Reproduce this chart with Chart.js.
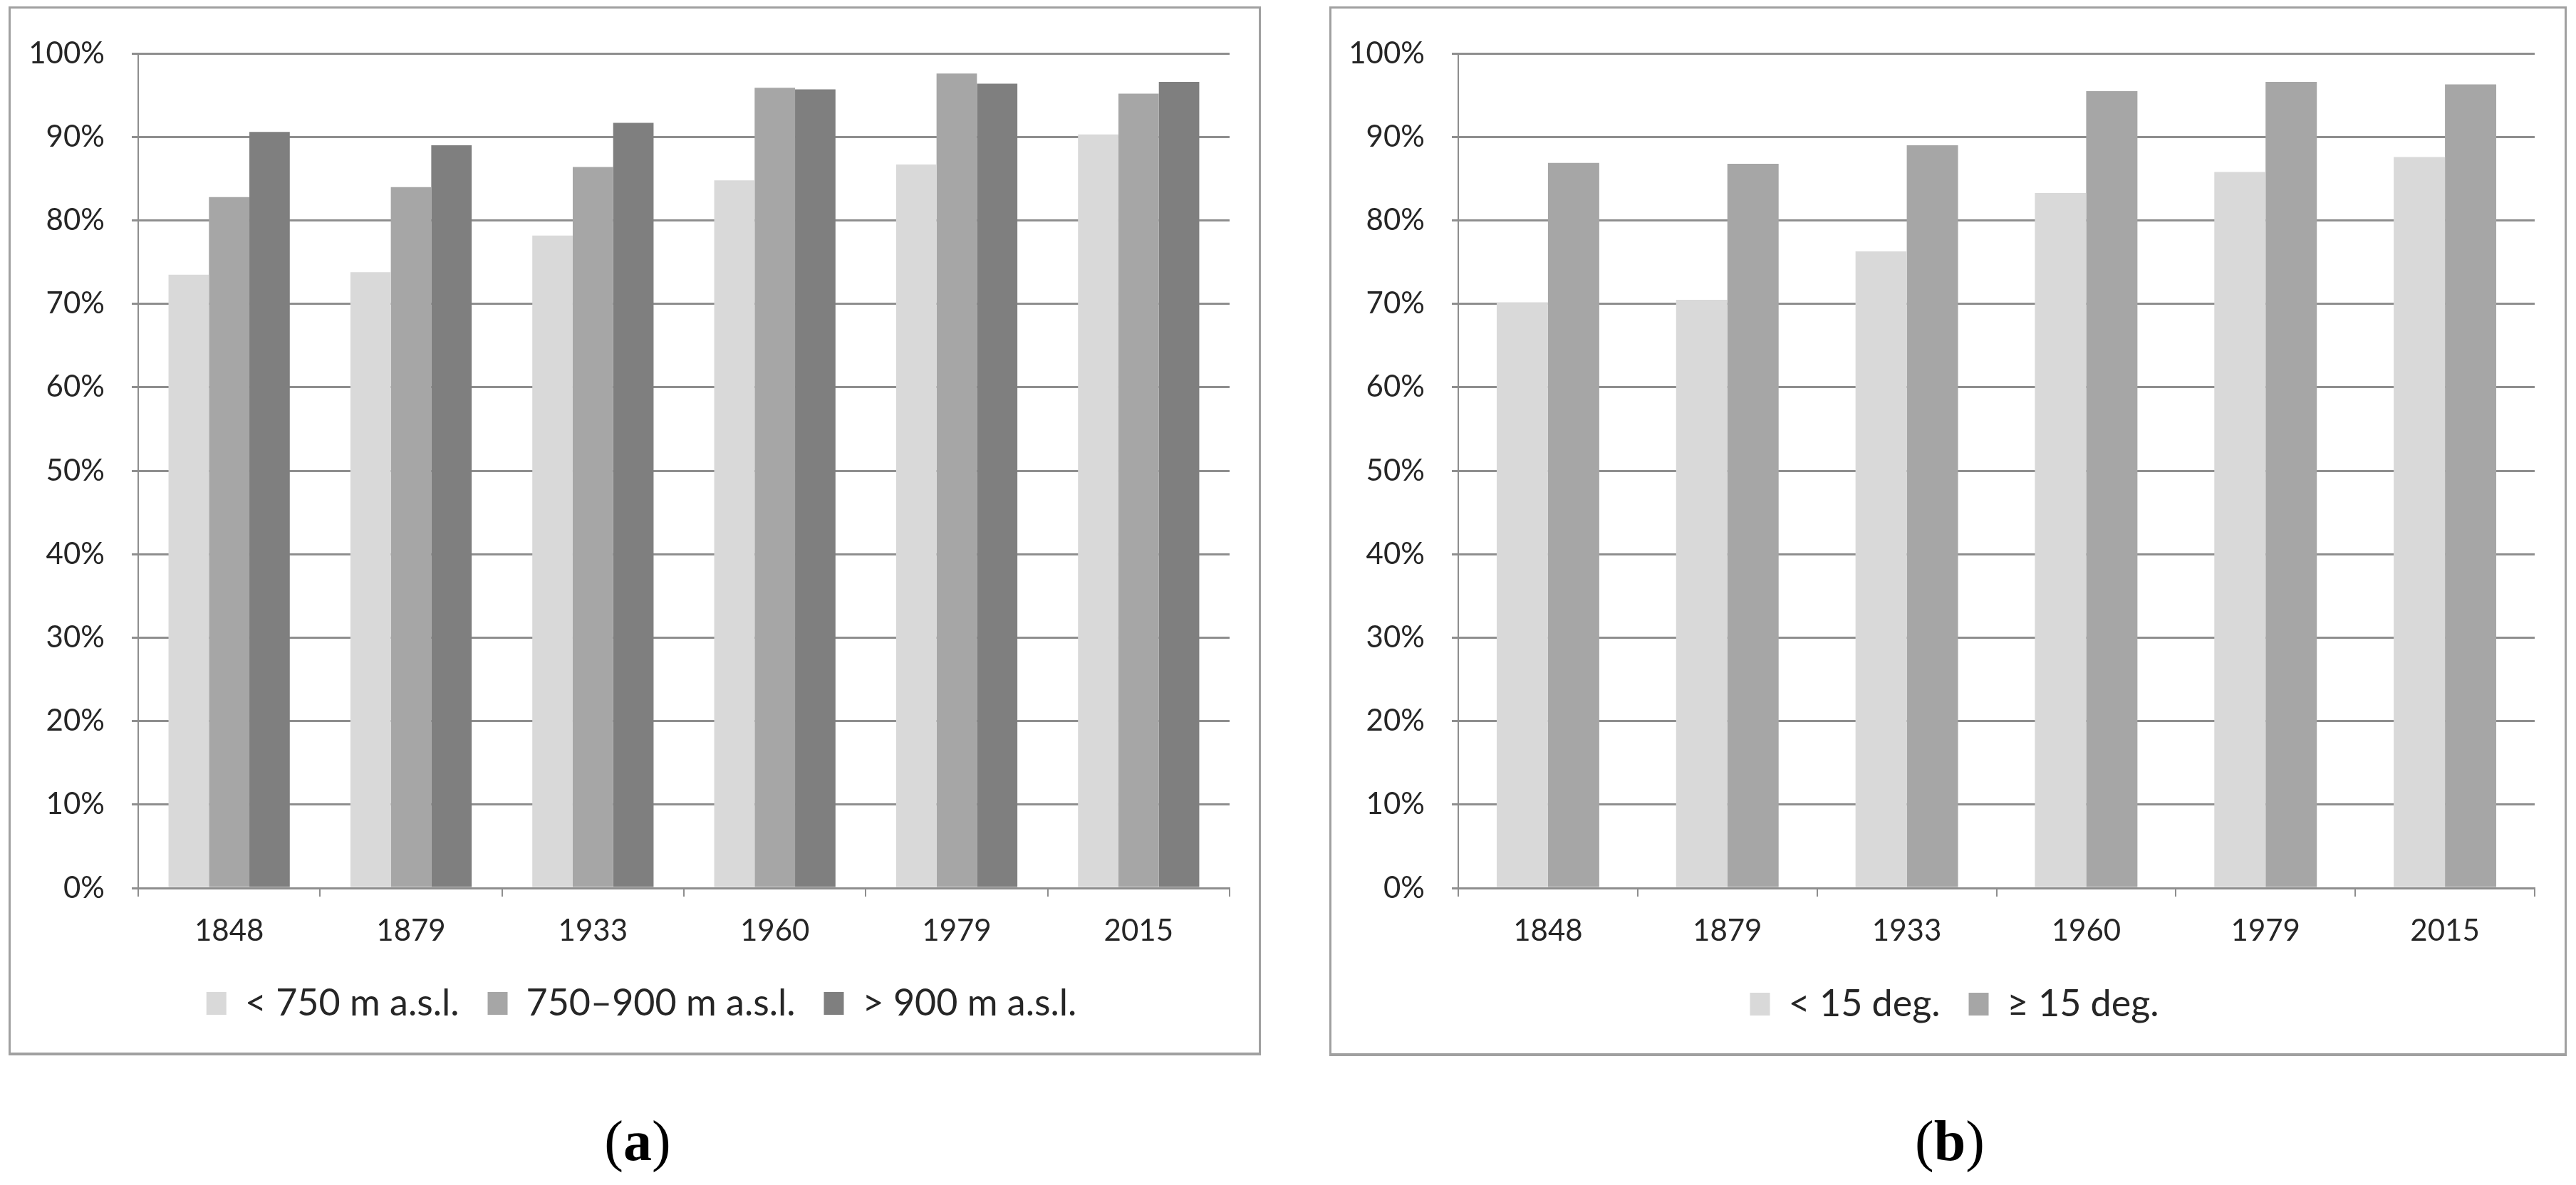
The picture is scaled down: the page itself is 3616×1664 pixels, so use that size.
<!DOCTYPE html>
<html>
<head>
<meta charset="utf-8">
<script src="https://cdn.jsdelivr.net/npm/chart.js@4"></script>
<style>
  html, body { margin: 0; padding: 0; background: #ffffff; }
  body { width: 3616px; height: 1664px; position: relative; overflow: hidden; }
  .panel { position: absolute; box-sizing: border-box; border: 3px solid #a0a0a0; border-bottom-width: 4px; background: #fff; }
  .panel canvas { position: absolute; left: 0; top: 0; }
  .cap { position: absolute; font-family: "Liberation Serif", "DejaVu Serif", serif; font-size: 80px; color: #000; transform: translate(-50%, -50%); line-height: 1; white-space: nowrap; }
  .cap b { font-weight: bold; }
</style>
</head>
<body>
<div class="panel" id="pa" style="left:12px; top:9px; width:1758px; height:1473px;"><canvas id="ca" width="1752" height="1466"></canvas></div>
<div class="panel" id="pb" style="left:1866px; top:9px; width:1737px; height:1474px;"><canvas id="cb" width="1731" height="1467"></canvas></div>
<div class="cap" style="left:895px; top:1602px;">(<b>a</b>)</div>
<div class="cap" style="left:2737px; top:1602px;">(<b>b</b>)</div>
<script>
// ---- data ----
const years = ['1848', '1879', '1933', '1960', '1979', '2015'];
const elevLabels = ['< 750 m a.s.l.', '750–900 m a.s.l.', '> 900 m a.s.l.'];
const elevBelow750 = [73.5, 73.8, 78.2, 84.8, 86.7, 90.3];
const elev750to900 = [82.8, 84.0, 86.4, 95.9, 97.6, 95.2];
const elevAbove900 = [90.6, 89.0, 91.7, 95.7, 96.4, 96.6];
const slopeLabels = ['< 15 deg.', '≥ 15 deg.'];
const slopeBelow15 = [70.2, 70.5, 76.3, 83.3, 85.8, 87.6];
const slopeAbove15 = [86.9, 86.8, 89.0, 95.5, 96.6, 96.3];
const yMin = 0, yMax = 100, yStep = 10;

Chart.defaults.font.family = 'Lato, "Open Sans", sans-serif';
Chart.defaults.color = '#262626';

const gridColor = '#8e8e8e';

// shift the legend horizontally after layout (reference legend is centred on the panel, not the padded box)
const legendShift = {
  id: 'legendShift',
  afterLayout(chart, args, opts) {
    if (chart.legend && opts.dx) {
      chart.legend.left += opts.dx;
      chart.legend.right += opts.dx;
    }
  }
};

function makeChart(canvasId, datasets, catPct, yWidth, padRight, xHeight, dx) {
  return new Chart(document.getElementById(canvasId), {
    type: 'bar',
    data: { labels: years, datasets: datasets },
    plugins: [legendShift],
    options: {
      responsive: false,
      animation: false,
      devicePixelRatio: 1,
      layout: { padding: { top: 48, right: padRight, bottom: 33, left: 0 } },
      datasets: { bar: { categoryPercentage: catPct, barPercentage: 1.0, borderWidth: 0 } },
      plugins: {
        legendShift: { dx: dx },
        legend: {
          position: 'bottom',
          labels: { font: { size: 52 }, color: '#262626', boxWidth: 28, boxHeight: 32, padding: 40 }
        },
        tooltip: { enabled: false }
      },
      scales: {
        x: {
          afterFit: s => { s.height = xHeight; },
          grid: { drawOnChartArea: false, drawTicks: true, tickLength: 12, color: gridColor, lineWidth: 2, offset: true },
          border: { display: true, color: gridColor, width: 3 },
          ticks: { font: { size: 42 }, color: '#262626', padding: 23, maxRotation: 0 }
        },
        y: {
          min: yMin, max: yMax,
          afterFit: s => { s.width = yWidth; },
          grid: { color: gridColor, lineWidth: 3, tickLength: 9, drawTicks: true },
          border: { display: true, color: gridColor, width: 2 },
          ticks: { stepSize: yStep, font: { size: 42 }, color: '#262626', padding: 38, callback: v => v + '%' }
        }
      }
    }
  });
}

makeChart('ca', [
  { label: elevLabels[0], data: elevBelow750, backgroundColor: '#d9d9d9', borderWidth: 0 },
  { label: elevLabels[1], data: elev750to900, backgroundColor: '#a6a6a6', borderWidth: 0 },
  { label: elevLabels[2], data: elevAbove900, backgroundColor: '#7f7f7f', borderWidth: 0 }
], 3 / 4.5, 179, 41, 96, 30);

makeChart('cb', [
  { label: slopeLabels[0], data: slopeBelow15, backgroundColor: '#d9d9d9', borderWidth: 0 },
  { label: slopeLabels[1], data: slopeAbove15, backgroundColor: '#a6a6a6', borderWidth: 0 }
], 2 / 3.5, 178, 42, 97, 30);
</script>
</body>
</html>
